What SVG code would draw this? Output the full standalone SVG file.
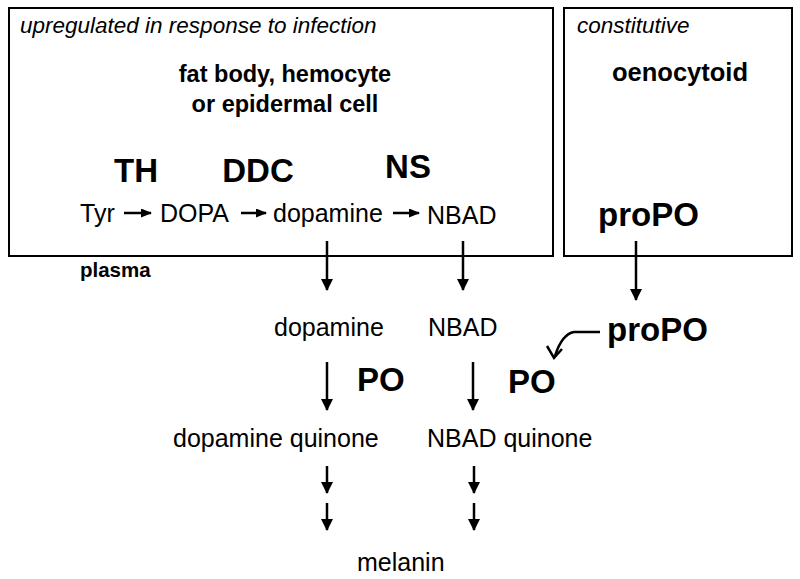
<svg xmlns="http://www.w3.org/2000/svg" width="800" height="579" viewBox="0 0 800 579">
<style>
text{font-family:"Liberation Sans",Arial,sans-serif;fill:#000}
.it{font-style:italic;font-size:22.5px}
.b20{font-weight:bold;font-size:23.5px}
.b28{font-weight:bold;font-size:33px}
.n{font-size:25px}
.box{fill:none;stroke:#000;stroke-width:2}
.ln{stroke:#000;stroke-width:2.5;fill:none}
</style>
<defs>
<marker id="ah" markerWidth="12" markerHeight="12" refX="11" refY="6" orient="auto" markerUnits="userSpaceOnUse">
<path d="M0,0 L12,6 L0,12 Z" fill="#000"/>
</marker>
<marker id="ahs" markerWidth="11" markerHeight="9" refX="10" refY="4.5" orient="auto" markerUnits="userSpaceOnUse">
<path d="M0,0 L11,4.5 L0,9 Z" fill="#000"/>
</marker>
</defs>
<g id="infection-box">
<rect class="box" x="9" y="8" width="544" height="248"/>
<text class="it" x="20" y="33">upregulated in response to infection</text>
<text class="b20" x="285" y="82" text-anchor="middle">fat body, hemocyte</text>
<text class="b20" x="285" y="112" text-anchor="middle">or epidermal cell</text>
<text class="b28" x="136" y="182" text-anchor="middle">TH</text>
<text class="b28" x="258" y="182" text-anchor="middle">DDC</text>
<text class="b28" x="408" y="178" text-anchor="middle">NS</text>
<text class="n" x="80" y="222">Tyr</text>
<text class="n" x="160" y="222">DOPA</text>
<text class="n" x="273" y="222">dopamine</text>
<text class="n" x="427" y="224">NBAD</text>
</g>
<g id="constitutive-box">
<rect class="box" x="564" y="8" width="228" height="248"/>
<text class="it" x="577" y="33">constitutive</text>
<text class="b20" x="612" y="81" style="font-size:25.5px">oenocytoid</text>
<text class="b28" x="598" y="226">proPO</text>
</g>
<g id="plasma">
<text class="b20" x="80" y="277" style="font-size:20.5px">plasma</text>
<text class="n" x="274" y="336">dopamine</text>
<text class="n" x="428" y="336">NBAD</text>
<text class="b28" x="607" y="341">proPO</text>
<text class="b28" x="357" y="391">PO</text>
<text class="b28" x="508" y="393">PO</text>
<text class="n" x="173" y="447">dopamine quinone</text>
<text class="n" x="427" y="447">NBAD quinone</text>
<text class="n" x="357" y="571">melanin</text>
</g>
<g id="connectors">
<line class="ln" x1="124" y1="213" x2="151" y2="213" marker-end="url(#ahs)"/>
<line class="ln" x1="241" y1="213" x2="266" y2="213" marker-end="url(#ahs)"/>
<line class="ln" x1="393" y1="213" x2="419" y2="213" marker-end="url(#ahs)"/>
<line class="ln" x1="327" y1="241" x2="327" y2="290" marker-end="url(#ah)"/>
<line class="ln" x1="463" y1="241" x2="463" y2="290" marker-end="url(#ah)"/>
<line class="ln" x1="636" y1="241" x2="636" y2="300" marker-end="url(#ah)"/>
<line class="ln" x1="327" y1="362" x2="327" y2="410" marker-end="url(#ah)"/>
<line class="ln" x1="473" y1="362" x2="473" y2="410" marker-end="url(#ah)"/>
<line class="ln" x1="327" y1="466" x2="327" y2="493" marker-end="url(#ah)"/>
<line class="ln" x1="327" y1="503" x2="327" y2="530" marker-end="url(#ah)"/>
<line class="ln" x1="474" y1="466" x2="474" y2="493" marker-end="url(#ah)"/>
<line class="ln" x1="474" y1="503" x2="474" y2="530" marker-end="url(#ah)"/>
<path class="ln" d="M600,332 L574,332 Q562,334 555,356"/>
<path class="ln" d="M547,346 L554,358 L562,349"/>
</g>
</svg>
